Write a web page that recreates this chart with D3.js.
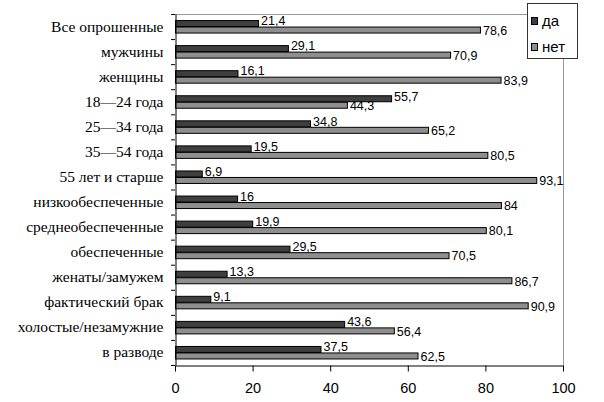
<!DOCTYPE html>
<html><head><meta charset="utf-8">
<script src="https://cdn.jsdelivr.net/npm/d3@7"></script>
<style>body{margin:0;background:#fff}
.cat{font-family:"Liberation Serif","DejaVu Serif","Times New Roman",serif !important;font-size:15.5px}
</style>
</head><body>
<svg id="c" width="604" height="402"></svg>
<script>
const categories = ["Все опрошенные","мужчины","женщины","18—24 года","25—34 года","35—54 года","55 лет и старше","низкообеспеченные","среднеобеспеченные","обеспеченные","женаты/замужем","фактический брак","холостые/незамужние","в разводе"];
const seriesNames = ["да","нет"];
const yesValues = [21.4,29.1,16.1,55.7,34.8,19.5,6.9,16,19.9,29.5,13.3,9.1,43.6,37.5];
const noValues = [78.6,70.9,83.9,44.3,65.2,80.5,93.1,84,80.1,70.5,86.7,90.9,56.4,62.5];
const xTicks = [0,20,40,60,80,100];
const colors = ["#3f3f3f","#8e8e8e"];

const SANS = "'Liberation Sans', Arial, sans-serif";
const svg = d3.select("#c");
const L=175,R=563,T=14,B=365;
const x = d3.scaleLinear().domain([0,100]).range([L,R]);
const y = d3.scaleBand().domain(categories).range([T,B]);
const barH = 6.5;
const fmt = v => String(v).replace(".",",");

// frame
svg.append("line").attr("x1",L).attr("x2",R).attr("y1",T+0.5).attr("y2",T+0.5).attr("stroke","#999");
svg.append("line").attr("x1",R+0.5).attr("x2",R+0.5).attr("y1",T).attr("y2",B).attr("stroke","#999");

const series = [yesValues,noValues];
series.forEach((vals,si)=>{
  const g = svg.append("g");
  g.selectAll("rect").data(categories).join("rect")
    .attr("x",L+0.5)
    .attr("y",(d,i)=>y(d)+y.bandwidth()/2-barH+si*barH+0.5)
    .attr("width",(d,i)=>x(vals[i])-L)
    .attr("height",barH-0.5)
    .attr("fill",colors[si]).attr("stroke","#000").attr("stroke-width",1);
});
series.forEach((vals,si)=>{
  const g = svg.append("g");
  g.selectAll("text").data(categories).join("text")
    .attr("x",(d,i)=>x(vals[i])+3)
    .attr("y",(d,i)=>y(d)+y.bandwidth()/2-barH/2+si*barH+(si?0.5:-2.5))
    .attr("dy","0.36em")
    .style("font-family",SANS)
    .style("font-size","12.5px").attr("fill","#000")
    .text((d,i)=>fmt(vals[i]));
});

// axes
const yAxis = svg.append("g").attr("transform",`translate(${L+0.5},0)`)
  .call(d3.axisLeft(y).tickSize(0).tickPadding(12));
yAxis.attr("font-family",null).attr("font-size",null);
yAxis.select(".domain").attr("stroke","#000");
yAxis.selectAll("text").attr("class","cat").attr("fill","#000");
// category separator ticks
svg.append("g").selectAll("line").data(categories.concat(["__end"])).join("line")
  .attr("x1",L-4).attr("x2",L)
  .attr("y1",(d,i)=>T+i*y.bandwidth()+0.5).attr("y2",(d,i)=>T+i*y.bandwidth()+0.5)
  .attr("stroke","#000");

const xAxis = svg.append("g").attr("transform",`translate(0,${B+0.5})`)
  .call(d3.axisBottom(x).tickValues(xTicks).tickSize(6).tickPadding(11).tickSizeOuter(0));
xAxis.select(".domain").attr("stroke","#000");
xAxis.selectAll("line").attr("stroke","#000");
xAxis.selectAll("text").style("font-family",SANS).style("font-size","14.5px").attr("fill","#000");

// legend
const lg = svg.append("g");
lg.append("rect").attr("x",527.5).attr("y",3.5).attr("width",50).attr("height",55).attr("fill","#fff").attr("stroke","#333");
seriesNames.forEach((n,i)=>{
  lg.append("rect").attr("x",531.5).attr("y",17.5+i*26).attr("width",6).attr("height",7).attr("fill",colors[i]).attr("stroke","#000");
  lg.append("text").attr("x",542).attr("y",21+i*26).attr("dy","0.35em")
    .style("font-family",SANS).style("font-size","15px").text(n);
});
</script>
</body></html>
